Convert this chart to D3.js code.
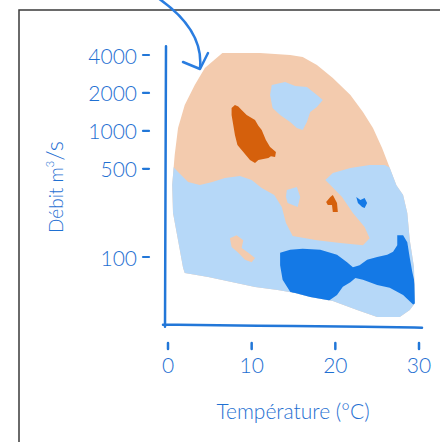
<!DOCTYPE html>
<html>
<head>
<meta charset="utf-8">
<script src="https://cdn.jsdelivr.net/npm/d3@7"></script>
<style>
  body { margin: 0; background: #fff; }
  text { font-family: Lato, "Open Sans", sans-serif; font-weight: 300; fill: #1f70d2; }
</style>
</head>
<body>
<script>
// axis ticks
var tempTicks = [0, 10, 20, 30];
var debitTicks = [100, 500, 1000, 2000, 4000];

// regions, as [temperature °C, débit m3/s]
var envelope = [[6.5,4150],[11.0,4150],[14.6,4000],[16.1,3860],[17.8,3330],[19.7,2630],[21.8,1930],[23.3,1410],
  [24.5,1055],[25.6,730],[26.5,510],[27.3,370],[28.1,310],[28.6,223],[28.9,136],[29.4,83],[29.5,43],[28.9,38],
  [27.7,33.4],[25.0,33.4],[22.6,38],[19.7,44.8],[17.0,48.2],[15.2,51.8],[13.1,54.7],[10.4,57.8],[7.6,63.4],
  [4.8,69.4],[2.0,74.7],[1.8,82],[1.2,136],[0.6,223],[0.5,372],[0.8,644],[1.2,1055],[2.0,1605],[3.2,2310],[4.4,3150]];

var coldLow = [[-1,560],[0.2,557],[1.2,472],[2.4,393],[3.8,372],[5.3,393],[6.8,423],[8.6,439],[10.0,408],
  [11.2,353],[12.7,310],[13.6,249],[14.1,186],[14.9,147],[17.8,136],[20.6,129],[23.3,124],[24.1,141],
  [23.5,173],[22.1,223],[20.8,299],[19.4,372],[18.8,408],[19.7,464],[21.8,508],[24.1,536],[25.9,536],
  [27.1,490],[31,447],[31,20],[-1,20]];

var coldTop = [[12.4,2310],[14.0,2440],[15.2,2270],[16.6,2230],[17.8,1930],[18.5,1760],[17.8,1547],[17.0,1413],
  [16.6,1177],[16.1,1017],[15.4,1055],[14.6,1177],[13.4,1337],[12.5,1520],[12.2,1930]];

var coldSmall = [[14.2,340],[15.4,359],[15.8,299],[15.5,249],[14.9,258],[14.3,268],[14.1,299]];

var warmSmall = [[7.4,141],[8.2,149],[9.0,136],[8.8,118],[9.6,108],[10.4,98],[10.0,91],[9.2,95],[8.4,108],[7.6,120]];

var hotMain = [[8.0,1605],[8.4,1560],[8.8,1465],[9.4,1337],[10.4,1221],[10.8,1100],[11.2,1017],[11.7,847],
  [12.2,745],[12.9,680],[12.8,621],[12.3,630],[12.0,610],[10.8,588],[10.4,557],[9.8,588],[9.0,680],[8.3,773],
  [8.0,928],[7.8,1114],[7.6,1337],[7.6,1520]];

var hotSmall = [[19.4,299],[19.7,310],[20.2,268],[20.3,227],[19.7,227],[19.6,258],[19.1,258],[18.9,273]];

var frozenMain = [[13.4,108],[14.6,114],[16.1,116],[18.2,114],[19.0,110],[20.2,104],[21.4,91],[22.1,83],[22.9,86],
  [23.8,95],[25.0,100],[26.2,104],[26.9,110],[27.4,124],[27.4,149],[28.1,149],[28.6,131],[28.9,98],[29.2,76],
  [30,44],[29.3,42],[28.1,50],[26.5,57],[25.0,60],[23.3,66],[22.4,68],[21.8,63],[20.9,58],[20.2,50],[19.0,44],
  [17.8,44],[16.1,47],[14.6,53],[13.7,66],[13.4,86]];

var frozenSmall = [[22.5,299],[23.0,283],[23.5,294],[23.8,268],[23.5,245],[23.2,249],[22.7,268]];

var width = 440;
var height = 442;

var svg = d3.select("body").append("svg").attr("width",width).attr("height",height);

var x = d3.scaleLinear().domain([0,30]).range([168,419]);
var y = d3.scaleLog().domain([100,4000]).range([257,55]);

var area = d3.line()
  .x(function(d){ return x(d[0]); })
  .y(function(d){ return y(d[1]); })
  .curve(d3.curveLinearClosed);

// frame
svg.append("rect")
  .attr("x",19).attr("y",10).attr("width",440).attr("height",460)
  .attr("fill","none").attr("stroke","#3a3a3a").attr("stroke-width",1.5);

svg.append("clipPath").attr("id","env")
  .append("path").attr("d",area(envelope));

var plot = svg.append("g");

plot.append("path").attr("d",area(envelope)).attr("fill","#f3cbae");

var clipped = plot.append("g").attr("clip-path","url(#env)");
clipped.append("path").attr("d",area(coldLow)).attr("fill","#b6d8f8");
clipped.append("path").attr("d",area(frozenMain)).attr("fill","#1479e6");

plot.append("path").attr("d",area(coldTop)).attr("fill","#b6d8f8");
plot.append("path").attr("d",area(coldSmall)).attr("fill","#b6d8f8");
plot.append("path").attr("d",area(warmSmall)).attr("fill","#f3cbae");
plot.append("path").attr("d",area(hotMain)).attr("fill","#d5600c");
plot.append("path").attr("d",area(hotSmall)).attr("fill","#d5600c");
plot.append("path").attr("d",area(frozenSmall)).attr("fill","#1479e6");

// axes
var blue = "#2277d8";
svg.append("path")
  .attr("d","M"+(x(0)-2)+","+(y(4700))+" L"+(x(0)-3)+","+(y(28)))
  .attr("stroke",blue).attr("stroke-width",2.5).attr("fill","none").attr("stroke-linecap","round");

var xAxisLine = d3.line().curve(d3.curveBasis);
svg.append("path")
  .attr("d",xAxisLine([[x(0)-5,y(28)-2],[x(10),y(28)-1],[x(25),y(28)],[x(30)+3,y(28)+1]]))
  .attr("stroke",blue).attr("stroke-width",2.5).attr("fill","none").attr("stroke-linecap","round");

var yTicks = svg.append("g").selectAll("g")
  .data(debitTicks)
  .enter().append("g")
    .attr("transform",function(d){ return "translate(0,"+y(d)+")"; });

yTicks.append("line")
  .attr("x1",143).attr("x2",149)
  .attr("stroke",blue).attr("stroke-width",2.2).attr("stroke-linecap","round");

yTicks.append("text")
  .attr("x",137)
  .attr("text-anchor","end")
  .attr("dominant-baseline","central")
  .attr("font-size",21)
  .text(function(d){ return d; });

var xTicks = svg.append("g").selectAll("g")
  .data(tempTicks)
  .enter().append("g")
    .attr("transform",function(d){ return "translate("+x(d)+",0)"; });

xTicks.append("line")
  .attr("y1",343).attr("y2",349)
  .attr("stroke",blue).attr("stroke-width",2.5).attr("stroke-linecap","round");

xTicks.append("text")
  .attr("y",364)
  .attr("text-anchor","middle")
  .attr("dominant-baseline","central")
  .attr("font-size",21)
  .text(function(d){ return d; });

svg.append("text")
  .attr("x",293).attr("y",410)
  .attr("text-anchor","middle")
  .attr("dominant-baseline","central")
  .attr("font-size",21)
  .text("Température (°C)");

var yLabel = svg.append("text")
  .attr("transform","translate(63,187) rotate(-90)")
  .attr("text-anchor","middle")
  .attr("font-size",19);
yLabel.append("tspan").text("Débit m");
yLabel.append("tspan").attr("font-size",11).attr("dy",-9).text("3");
yLabel.append("tspan").attr("dy",9).attr("font-size",24).text("/s");

// annotation arrow
svg.append("path")
  .attr("d","M158,-2 C184,16 203,38 200,68")
  .attr("stroke","#2a7de0").attr("stroke-width",2.5).attr("fill","none");
svg.append("path")
  .attr("d","M183,62 L200,69 L208,53")
  .attr("stroke","#2a7de0").attr("stroke-width",2.5).attr("fill","none")
  .attr("stroke-linecap","round").attr("stroke-linejoin","round");
</script>
</body>
</html>
